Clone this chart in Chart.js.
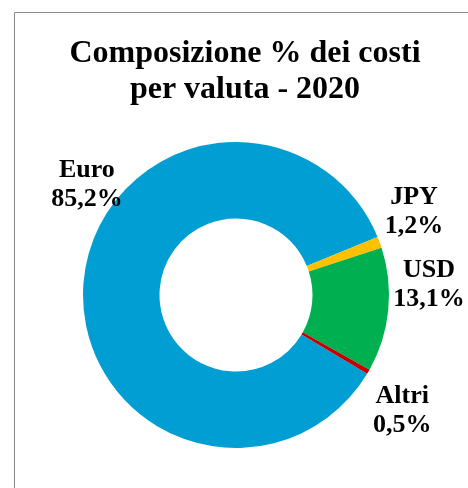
<!DOCTYPE html>
<html>
<head>
<meta charset="utf-8">
<script src="https://cdn.jsdelivr.net/npm/chart.js@4"></script>
<style>
  body { margin: 0; background: #fff; overflow: hidden; }
</style>
</head>
<body>
<canvas id="chart" width="468" height="488"></canvas>
<script>
// dati del grafico
const titolo = ['Composizione % dei costi', 'per valuta - 2020'];
const valute = ['Euro', 'JPY', 'USD', 'Altri'];
const percentuali = [85.2, 1.2, 13.1, 0.5];
const etichette = ['85,2%', '1,2%', '13,1%', '0,5%'];
const colori = ['#009ED3', '#FFC000', '#00B050', '#C00000'];

const fontSerif = "'Liberation Serif', 'Times New Roman', serif";

// posizione delle etichette: angolo (gradi, da ore 12 in senso orario) e distanza dal bordo esterno
const posEtichette = [[305, 29], [66.6, 41], [88.8, 40], [126.2, 53]];

// cornice grigia (lato sinistro e superiore) + titolo
const cornice = {
    id: 'cornice',
    beforeDraw(chart) {
        const ctx = chart.ctx;
        ctx.save();
        ctx.strokeStyle = '#8a8a8a';
        ctx.lineWidth = 1;
        ctx.beginPath();
        ctx.moveTo(14.5, chart.height);
        ctx.lineTo(14.5, 12.5);
        ctx.lineTo(chart.width, 12.5);
        ctx.stroke();

        // titolo su due righe, centrato un po' a destra del grafico
        ctx.fillStyle = '#000';
        ctx.font = "bold 32px " + fontSerif;
        ctx.textAlign = 'center';
        ctx.textBaseline = 'alphabetic';
        titolo.forEach((riga, i) => ctx.fillText(riga, 245, 62 + i * 36));
        ctx.restore();
    }
};

// etichette esterne: nome + percentuale
const etichetteEsterne = {
    id: 'etichetteEsterne',
    afterDatasetsDraw(chart) {
        const ctx = chart.ctx;
        const arcs = chart.getDatasetMeta(0).data;
        ctx.save();
        ctx.fillStyle = '#000';
        ctx.font = "bold 26px " + fontSerif;
        ctx.textAlign = 'center';
        ctx.textBaseline = 'alphabetic';
        arcs.forEach((arc, i) => {
            const [deg, off] = posEtichette[i];
            const a = (deg - 90) * Math.PI / 180;
            const r = arc.outerRadius + off;
            const x = arc.x + Math.cos(a) * r;
            const y = arc.y + Math.sin(a) * r;
            ctx.fillText(valute[i], x, y - 14);
            ctx.fillText(etichette[i], x, y + 15);
        });
        ctx.restore();
    }
};

new Chart(document.getElementById('chart'), {
    type: 'doughnut',
    data: {
        labels: valute,
        datasets: [{
            data: percentuali,
            backgroundColor: colori,
            borderWidth: 0
        }]
    },
    options: {
        responsive: false,
        animation: false,
        rotation: 121,
        cutout: '50%',
        layout: { padding: { left: 4, right: 0, top: 142, bottom: 40 } },
        plugins: {
            legend: { display: false },
            tooltip: { enabled: false },
            title: { display: false }
        }
    },
    plugins: [cornice, etichetteEsterne]
});
</script>
</body>
</html>
